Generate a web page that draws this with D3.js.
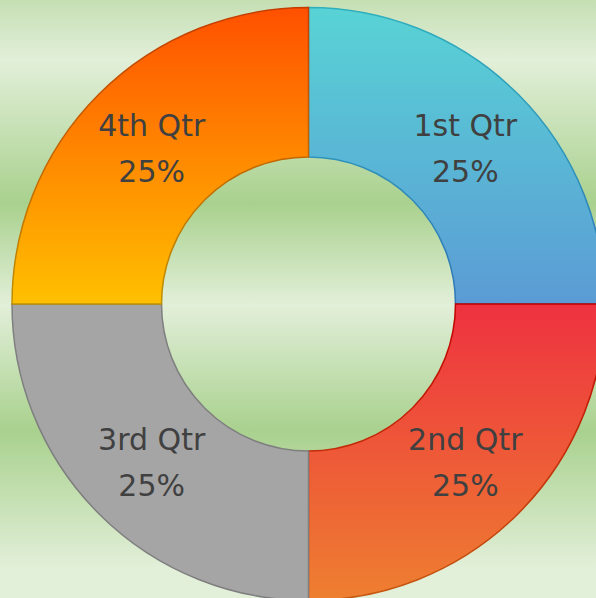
<!DOCTYPE html>
<html>
<head>
<meta charset="utf-8">
<script src="https://cdn.jsdelivr.net/npm/d3@7"></script>
<style>
  html, body { margin: 0; padding: 0; overflow: hidden; }
  svg { display: block; }
</style>
</head>
<body>
<script>
// Chart data
var quarters = ["1st Qtr", "2nd Qtr", "3rd Qtr", "4th Qtr"];
var sales = [25, 25, 25, 25];

// Slice fills (top colour, bottom colour) and outlines
var fillTop    = ["#58d3d5", "#ee3240", "#a5a5a5", "#ff5000"];
var fillBottom = ["#5b9bd5", "#ee7f30", "#a5a5a5", "#ffc000"];
var lineTop    = ["#2fb0bd", "#c00000", "#7f7f7f", "#c43c00"];
var lineBottom = ["#2e75b6", "#c55a11", "#7f7f7f", "#bf9000"];

function generateViz() {
	var width = 596,
		height = 598;

	var cx = 308.5,
		cy = 304,
		outer = 296.5,
		inner = 147;

	var svg = d3.select("body")
				.append("svg")
				.attr("width", width)
				.attr("height", height);

	var defs = svg.append("defs");

	// striped green background
	var bg = defs.append("linearGradient")
		.attr("id", "bg")
		.attr("x1", 0).attr("y1", 0)
		.attr("x2", 0).attr("y2", 1);
	[[0, "#c5dfb3"], [0.1, "#e2efd9"], [0.34, "#a9d18e"], [0.51, "#e2efd9"],
	 [0.72, "#a9d18e"], [0.95, "#e2efd9"], [1, "#e2efd9"]].forEach(function(s) {
		bg.append("stop").attr("offset", s[0]).attr("stop-color", s[1]);
	});

	svg.append("rect")
		.attr("width", width)
		.attr("height", height)
		.attr("fill", "url(#bg)");

	// one vertical gradient per slice, for fill and for outline
	quarters.forEach(function(q, i) {
		var g = defs.append("linearGradient")
			.attr("id", "fill" + i)
			.attr("x1", 0).attr("y1", 0).attr("x2", 0).attr("y2", 1);
		g.append("stop").attr("offset", 0).attr("stop-color", fillTop[i]);
		g.append("stop").attr("offset", 1).attr("stop-color", fillBottom[i]);

		var l = defs.append("linearGradient")
			.attr("id", "line" + i)
			.attr("x1", 0).attr("y1", 0).attr("x2", 0).attr("y2", 1);
		l.append("stop").attr("offset", 0).attr("stop-color", lineTop[i]);
		l.append("stop").attr("offset", 1).attr("stop-color", lineBottom[i]);
	});

	var pie = d3.pie().sort(null);
	var arcs = pie(sales);
	var total = d3.sum(sales);

	var arc = d3.arc()
		.innerRadius(inner)
		.outerRadius(outer);

	var chart = svg.append("g")
		.attr("transform", "translate(" + cx + "," + cy + ")");

	chart.selectAll("path")
		.data(arcs)
		.enter()
		.append("path")
		.attr("d", arc)
		.attr("fill", function(d, i) { return "url(#fill" + i + ")"; })
		.attr("stroke", function(d, i) { return "url(#line" + i + ")"; })
		.attr("stroke-width", 1.5);

	var fmt = d3.format(".0%");

	var labels = chart.selectAll("text.lbl")
		.data(arcs)
		.enter()
		.append("text")
		.attr("class", "lbl")
		.attr("transform", function(d) { return "translate(" + arc.centroid(d) + ")"; })
		.attr("text-anchor", "middle")
		.style("font-family", "'DejaVu Sans', sans-serif")
		.style("font-size", "30px")
		.attr("fill", "#404040");

	labels.append("tspan")
		.attr("x", 0)
		.attr("y", -11)
		.text(function(d, i) { return quarters[i]; });

	labels.append("tspan")
		.attr("x", 0)
		.attr("y", 35)
		.text(function(d) { return fmt(d.value / total); });
} // generateViz()

generateViz();
</script>
</body>
</html>
